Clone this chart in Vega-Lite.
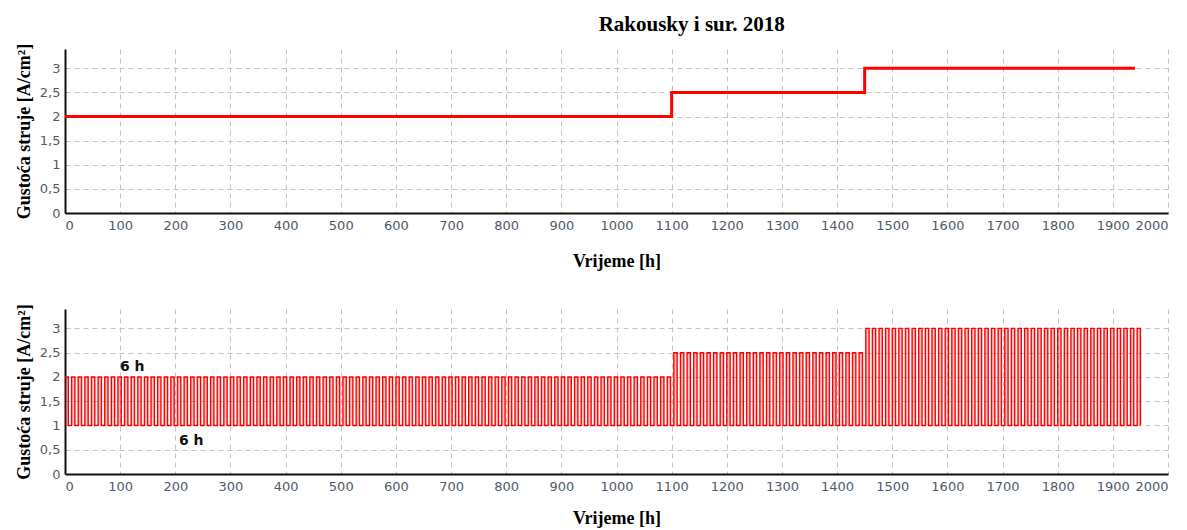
{
"$schema": "https://vega.github.io/schema/vega-lite/v6.json",
"background": "white",
"padding": {"left": 15, "top": 14, "right": 4, "bottom": 2},
"title": {"text": "Rakousky i sur. 2018", "font": "Liberation Serif", "fontSize": 21, "fontWeight": "bold", "color": "#000", "anchor": "middle", "dx": 100, "offset": 8},
"spacing": 33,
"config": {
  "view": {"stroke": null},
  "axis": {"labelFont": "DejaVu Sans", "labelFontSize": 13, "labelColor": "#4f5b6b", "titleFont": "Liberation Serif", "titleFontSize": 18, "titleFontWeight": "bold", "titleColor": "#000", "domainColor": "#111", "domainWidth": 2, "ticks": false, "gridColor": "#c4c4c4", "gridDash": [5, 4], "gridWidth": 1, "labelPadding": 5}
},
"datasets": {
  "top": [{"t":0,"v":2},{"t":1100,"v":2.5},{"t":1450,"v":3},{"t":1940,"v":3}],
  "ann": [{"t":122,"v":2.2,"label":"6 h"},{"t":229,"v":0.69,"label":"6 h"}],
  "wave": [
{"t":0,"v":2},{"t":6,"v":1},{"t":12,"v":2},{"t":18,"v":1},{"t":24,"v":2},{"t":30,"v":1},{"t":36,"v":2},{"t":42,"v":1},{"t":48,"v":2},{"t":54,"v":1},{"t":60,"v":2},{"t":66,"v":1},{"t":72,"v":2},{"t":78,"v":1},{"t":84,"v":2},{"t":90,"v":1},{"t":96,"v":2},{"t":102,"v":1},{"t":108,"v":2},{"t":114,"v":1},{"t":120,"v":2},{"t":126,"v":1},{"t":132,"v":2},{"t":138,"v":1},{"t":144,"v":2},{"t":150,"v":1},{"t":156,"v":2},{"t":162,"v":1},{"t":168,"v":2},{"t":174,"v":1},{"t":180,"v":2},{"t":186,"v":1},{"t":192,"v":2},{"t":198,"v":1},{"t":204,"v":2},{"t":210,"v":1},{"t":216,"v":2},{"t":222,"v":1},{"t":228,"v":2},{"t":234,"v":1},{"t":240,"v":2},{"t":246,"v":1},{"t":252,"v":2},{"t":258,"v":1},{"t":264,"v":2},{"t":270,"v":1},{"t":276,"v":2},{"t":282,"v":1},{"t":288,"v":2},{"t":294,"v":1},{"t":300,"v":2},{"t":306,"v":1},{"t":312,"v":2},{"t":318,"v":1},{"t":324,"v":2},{"t":330,"v":1},{"t":336,"v":2},{"t":342,"v":1},{"t":348,"v":2},{"t":354,"v":1},{"t":360,"v":2},{"t":366,"v":1},{"t":372,"v":2},{"t":378,"v":1},{"t":384,"v":2},{"t":390,"v":1},{"t":396,"v":2},{"t":402,"v":1},{"t":408,"v":2},{"t":414,"v":1},{"t":420,"v":2},{"t":426,"v":1},{"t":432,"v":2},{"t":438,"v":1},{"t":444,"v":2},{"t":450,"v":1},{"t":456,"v":2},{"t":462,"v":1},{"t":468,"v":2},{"t":474,"v":1},{"t":480,"v":2},{"t":486,"v":1},{"t":492,"v":2},{"t":498,"v":1},{"t":504,"v":2},{"t":510,"v":1},{"t":516,"v":2},{"t":522,"v":1},{"t":528,"v":2},{"t":534,"v":1},{"t":540,"v":2},{"t":546,"v":1},{"t":552,"v":2},{"t":558,"v":1},{"t":564,"v":2},{"t":570,"v":1},{"t":576,"v":2},{"t":582,"v":1},{"t":588,"v":2},{"t":594,"v":1},{"t":600,"v":2},{"t":606,"v":1},{"t":612,"v":2},{"t":618,"v":1},{"t":624,"v":2},{"t":630,"v":1},{"t":636,"v":2},{"t":642,"v":1},{"t":648,"v":2},{"t":654,"v":1},{"t":660,"v":2},{"t":666,"v":1},{"t":672,"v":2},{"t":678,"v":1},{"t":684,"v":2},{"t":690,"v":1},{"t":696,"v":2},{"t":702,"v":1},{"t":708,"v":2},{"t":714,"v":1},{"t":720,"v":2},{"t":726,"v":1},{"t":732,"v":2},{"t":738,"v":1},{"t":744,"v":2},{"t":750,"v":1},{"t":756,"v":2},{"t":762,"v":1},{"t":768,"v":2},{"t":774,"v":1},{"t":780,"v":2},{"t":786,"v":1},{"t":792,"v":2},{"t":798,"v":1},{"t":804,"v":2},{"t":810,"v":1},{"t":816,"v":2},{"t":822,"v":1},{"t":828,"v":2},{"t":834,"v":1},{"t":840,"v":2},{"t":846,"v":1},{"t":852,"v":2},{"t":858,"v":1},{"t":864,"v":2},{"t":870,"v":1},{"t":876,"v":2},{"t":882,"v":1},{"t":888,"v":2},{"t":894,"v":1},{"t":900,"v":2},{"t":906,"v":1},{"t":912,"v":2},{"t":918,"v":1},{"t":924,"v":2},{"t":930,"v":1},{"t":936,"v":2},{"t":942,"v":1},{"t":948,"v":2},{"t":954,"v":1},{"t":960,"v":2},{"t":966,"v":1},{"t":972,"v":2},{"t":978,"v":1},{"t":984,"v":2},{"t":990,"v":1},{"t":996,"v":2},{"t":1002,"v":1},{"t":1008,"v":2},{"t":1014,"v":1},{"t":1020,"v":2},{"t":1026,"v":1},{"t":1032,"v":2},{"t":1038,"v":1},{"t":1044,"v":2},{"t":1050,"v":1},{"t":1056,"v":2},{"t":1062,"v":1},{"t":1068,"v":2},{"t":1074,"v":1},{"t":1080,"v":2},{"t":1086,"v":1},{"t":1092,"v":2},{"t":1098,"v":1},
{"t":1104,"v":2.5},{"t":1110,"v":1},{"t":1116,"v":2.5},{"t":1122,"v":1},{"t":1128,"v":2.5},{"t":1134,"v":1},{"t":1140,"v":2.5},{"t":1146,"v":1},{"t":1152,"v":2.5},{"t":1158,"v":1},{"t":1164,"v":2.5},{"t":1170,"v":1},{"t":1176,"v":2.5},{"t":1182,"v":1},{"t":1188,"v":2.5},{"t":1194,"v":1},{"t":1200,"v":2.5},{"t":1206,"v":1},{"t":1212,"v":2.5},{"t":1218,"v":1},{"t":1224,"v":2.5},{"t":1230,"v":1},{"t":1236,"v":2.5},{"t":1242,"v":1},{"t":1248,"v":2.5},{"t":1254,"v":1},{"t":1260,"v":2.5},{"t":1266,"v":1},{"t":1272,"v":2.5},{"t":1278,"v":1},{"t":1284,"v":2.5},{"t":1290,"v":1},{"t":1296,"v":2.5},{"t":1302,"v":1},{"t":1308,"v":2.5},{"t":1314,"v":1},{"t":1320,"v":2.5},{"t":1326,"v":1},{"t":1332,"v":2.5},{"t":1338,"v":1},{"t":1344,"v":2.5},{"t":1350,"v":1},{"t":1356,"v":2.5},{"t":1362,"v":1},{"t":1368,"v":2.5},{"t":1374,"v":1},{"t":1380,"v":2.5},{"t":1386,"v":1},{"t":1392,"v":2.5},{"t":1398,"v":1},{"t":1404,"v":2.5},{"t":1410,"v":1},{"t":1416,"v":2.5},{"t":1422,"v":1},{"t":1428,"v":2.5},{"t":1434,"v":1},{"t":1440,"v":2.5},{"t":1446,"v":1},
{"t":1452,"v":3},{"t":1458,"v":1},{"t":1464,"v":3},{"t":1470,"v":1},{"t":1476,"v":3},{"t":1482,"v":1},{"t":1488,"v":3},{"t":1494,"v":1},{"t":1500,"v":3},{"t":1506,"v":1},{"t":1512,"v":3},{"t":1518,"v":1},{"t":1524,"v":3},{"t":1530,"v":1},{"t":1536,"v":3},{"t":1542,"v":1},{"t":1548,"v":3},{"t":1554,"v":1},{"t":1560,"v":3},{"t":1566,"v":1},{"t":1572,"v":3},{"t":1578,"v":1},{"t":1584,"v":3},{"t":1590,"v":1},{"t":1596,"v":3},{"t":1602,"v":1},{"t":1608,"v":3},{"t":1614,"v":1},{"t":1620,"v":3},{"t":1626,"v":1},{"t":1632,"v":3},{"t":1638,"v":1},{"t":1644,"v":3},{"t":1650,"v":1},{"t":1656,"v":3},{"t":1662,"v":1},{"t":1668,"v":3},{"t":1674,"v":1},{"t":1680,"v":3},{"t":1686,"v":1},{"t":1692,"v":3},{"t":1698,"v":1},{"t":1704,"v":3},{"t":1710,"v":1},{"t":1716,"v":3},{"t":1722,"v":1},{"t":1728,"v":3},{"t":1734,"v":1},{"t":1740,"v":3},{"t":1746,"v":1},{"t":1752,"v":3},{"t":1758,"v":1},{"t":1764,"v":3},{"t":1770,"v":1},{"t":1776,"v":3},{"t":1782,"v":1},{"t":1788,"v":3},{"t":1794,"v":1},{"t":1800,"v":3},{"t":1806,"v":1},{"t":1812,"v":3},{"t":1818,"v":1},{"t":1824,"v":3},{"t":1830,"v":1},{"t":1836,"v":3},{"t":1842,"v":1},{"t":1848,"v":3},{"t":1854,"v":1},{"t":1860,"v":3},{"t":1866,"v":1},{"t":1872,"v":3},{"t":1878,"v":1},{"t":1884,"v":3},{"t":1890,"v":1},{"t":1896,"v":3},{"t":1902,"v":1},{"t":1908,"v":3},{"t":1914,"v":1},{"t":1920,"v":3},{"t":1926,"v":1},{"t":1932,"v":3},{"t":1938,"v":1},{"t":1944,"v":3},{"t":1950,"v":1}
  ]
},
"vconcat": [
  {
    "width": 1103, "height": 164,
    "data": {"name": "top"},
    "mark": {"type": "line", "interpolate": "step-after", "color": "#ff0000", "strokeWidth": 3},
    "encoding": {
      "x": {"field": "t", "type": "quantitative", "scale": {"domain": [0, 2000], "nice": false}, "axis": {"title": "Vrijeme [h]", "format": "d", "values": [0,100,200,300,400,500,600,700,800,900,1000,1100,1200,1300,1400,1500,1600,1700,1800,1900,2000], "titlePadding": 20, "labelPadding": 6}},
      "y": {"field": "v", "type": "quantitative", "scale": {"domain": [0, 3.4], "nice": false}, "axis": {"title": "Gustoća struje [A/cm²]", "values": [0,0.5,1,1.5,2,2.5,3], "labelExpr": "replace(toString(datum.value), '.', ',')", "titlePadding": 6}}
    }
  },
  {
    "width": 1103, "height": 165,
    "encoding": {
      "x": {"field": "t", "type": "quantitative", "scale": {"domain": [0, 2000], "nice": false}, "axis": {"title": "Vrijeme [h]", "format": "d", "values": [0,100,200,300,400,500,600,700,800,900,1000,1100,1200,1300,1400,1500,1600,1700,1800,1900,2000], "titlePadding": 16, "labelPadding": 6}},
      "y": {"field": "v", "type": "quantitative", "scale": {"domain": [0, 3.4], "nice": false}, "axis": {"title": "Gustoća struje [A/cm²]", "values": [0,0.5,1,1.5,2,2.5,3], "labelExpr": "replace(toString(datum.value), '.', ',')", "titlePadding": 6}}
    },
    "layer": [
      {
        "data": {"name": "wave"},
        "mark": {"type": "area", "interpolate": "step-after", "color": "#ff0000", "opacity": 0.22},
        "encoding": {
          "y2": {"datum": 1}
        }
      },
      {
        "data": {"name": "wave"},
        "mark": {"type": "line", "interpolate": "step-after", "color": "#ff0000", "strokeWidth": 1.4}
      },
      {
        "data": {"name": "ann"},
        "mark": {"type": "text", "font": "DejaVu Sans", "fontSize": 14, "fontWeight": "bold", "color": "#111"},
        "encoding": {
          "text": {"field": "label"}
        }
      }
    ]
  }
]
}
